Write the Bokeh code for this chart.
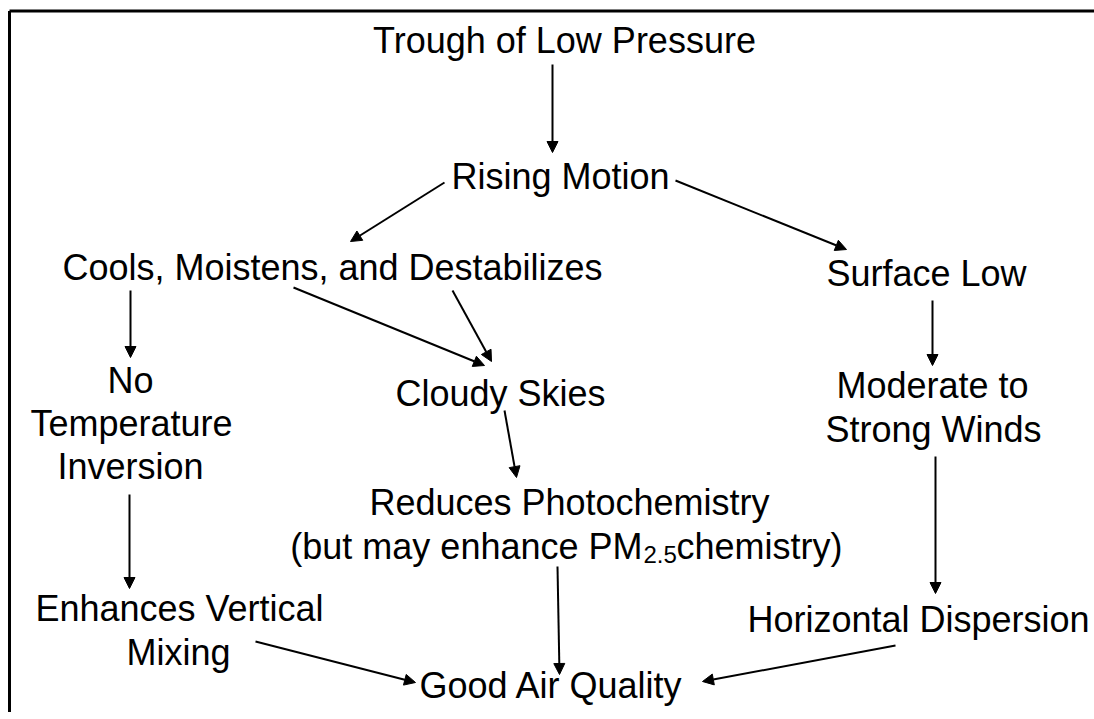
from bokeh.plotting import figure
from bokeh.models import Range1d, Arrow, NormalHead, ColumnDataSource
from bokeh.core.properties import value
from bokeh.embed import file_html
from bokeh.resources import INLINE

# ---- data: flowchart nodes (label, centre x, y position in page pixels) ----
node_labels = [
    "Trough of Low Pressure",
    "Rising Motion",
    "Cools, Moistens, and Destabilizes",
    "Surface Low",
    "No",
    "Temperature",
    "Inversion",
    "Cloudy Skies",
    "Moderate to",
    "Strong Winds",
    "Reduces Photochemistry",
    "Enhances Vertical",
    "Mixing",
    "Horizontal Dispersion",
    "Good Air Quality",
]
node_x = [564, 560, 332, 926, 130, 131, 130, 500, 932, 933, 569, 179, 178, 918, 551]
node_y = [40, 176, 267, 273, 380, 423, 466, 393, 385, 429, 502, 608, 652, 619, 685]

# line with subscript: "(but may enhance PM" + "2.5" (subscript) + " chemistry)"
pm_parts = ["(but may enhance PM", "2.5", " chemistry)"]
pm_anchor_x = 642
pm_baseline = 546

# ---- data: arrows (start -> tip) ----
arrow_x0 = [552, 444, 675, 130, 293, 452, 932, 504, 935, 129, 255, 557, 895]
arrow_y0 = [64, 182, 180, 290, 287, 290, 300, 410, 456, 494, 641, 566, 645]
arrow_x1 = [552, 350, 846, 130, 484, 491, 932, 516, 935, 129, 415, 559, 702]
arrow_y1 = [152, 241, 249, 357, 365, 361, 365, 477, 593, 588, 682, 674, 681]

W, H = 1094, 712
FONT = value("Liberation Sans")
SIZE = "36px"

p = figure(width=W, height=H, output_backend="svg", toolbar_location=None,
           x_range=Range1d(0, W), y_range=Range1d(H, 0),
           min_border=0, outline_line_color=None, outline_line_alpha=0,
           outline_line_width=0)
p.axis.visible = False
p.grid.visible = False
p.background_fill_color = "white"
p.border_fill_color = "white"

# frame lines (top and left)
p.line(x=[9, W], y=[10.5, 10.5], line_color="black", line_width=3)
p.line(x=[9, 9], y=[10.5, H], line_color="black", line_width=3)
# keep the right edge clean (the reference has no right frame line)
p.quad(left=[W - 5], right=[W + 2], top=[12.5], bottom=[H + 2],
       fill_color="white", line_color=None)

src = ColumnDataSource(dict(x=node_x, y=node_y, t=node_labels))
p.text(x="x", y="y", text="t", source=src, text_font=FONT, text_font_size=SIZE,
       text_align="center", text_baseline="alphabetic", text_color="black")

# subscripted line
p.text(x=[pm_anchor_x], y=[pm_baseline], text=[pm_parts[0]], text_font=FONT,
       text_font_size=SIZE, text_align="right", text_baseline="alphabetic", text_color="black")
p.text(x=[pm_anchor_x + 1], y=[pm_baseline + 8], text=[pm_parts[1]], text_font=FONT,
       text_font_size="24px", text_align="left", text_baseline="alphabetic", text_color="black")
p.text(x=[pm_anchor_x + 34], y=[pm_baseline], text=[pm_parts[2]], text_font=FONT,
       text_font_size=SIZE, text_align="left", text_baseline="alphabetic", text_color="black")

asrc = ColumnDataSource(dict(x0=arrow_x0, y0=arrow_y0, x1=arrow_x1, y1=arrow_y1))
p.add_layout(Arrow(end=NormalHead(size=11, fill_color="black", line_color="black", line_width=1),
                   x_start="x0", y_start="y0", x_end="x1", y_end="y1", source=asrc,
                   line_color="black", line_width=2))

open("out.html", "w").write(file_html(p, INLINE))
